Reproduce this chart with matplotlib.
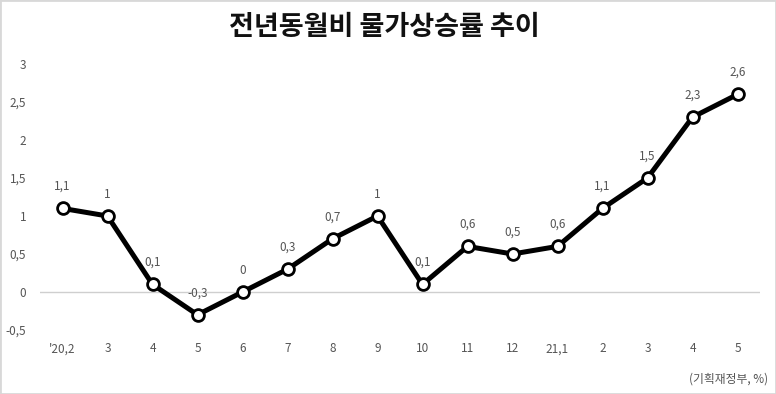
import matplotlib.pyplot as plt
from matplotlib.patches import Rectangle

plt.rcParams['font.family'] = ['Noto Sans CJK KR', 'DejaVu Sans']

months = ["'20,2", "3", "4", "5", "6", "7", "8", "9", "10", "11", "12",
          "21,1", "2", "3", "4", "5"]
cpi_yoy = [1.1, 1.0, 0.1, -0.3, 0.0, 0.3, 0.7, 1.0, 0.1, 0.6, 0.5,
           0.6, 1.1, 1.5, 2.3, 2.6]
y_ticks = [-0.5, 0, 0.5, 1, 1.5, 2, 2.5, 3]


def comma(v):
    s = f'{v:g}'
    return s.replace('.', ',')


fig = plt.figure(figsize=(7.76, 3.94), dpi=100)
W, H = 776, 394
# axes: x from 40 to 760 px, y from -0.5 (330px) to 3 (64px)
ax = fig.add_axes([40 / W, (H - 330) / H, 720 / W, 266 / H])

x = list(range(len(months)))
ax.plot(x, cpi_yoy, color='black', lw=3.6, marker='o', ms=8.5,
        markerfacecolor='white', markeredgecolor='black', mew=2, zorder=3)
ax.axhline(0, color='#cfcfcf', lw=1, zorder=1)

for xi, v in zip(x, cpi_yoy):
    ax.annotate(comma(v), (xi, v), xytext=(0, 11), textcoords='offset points',
                ha='center', va='bottom', fontsize=8.5, color='#555555')

ax.set_xlim(-0.5, len(months) - 0.5)
ax.set_ylim(-0.5, 3)
ax.set_yticks(y_ticks)
ax.set_yticklabels([comma(t) for t in y_ticks], fontsize=8.5, color='#555555')
ax.set_xticks(x)
ax.set_xticklabels(months, fontsize=8.5, color='#555555')
ax.tick_params(axis='both', length=0)
ax.tick_params(axis='y', pad=10)
ax.tick_params(axis='x', pad=9)
for s in ax.spines.values():
    s.set_visible(False)

fig.text(0.495, 1 - 27 / H, '전년동월비 물가상승률 추이', ha='center', va='center',
         fontsize=19.5, fontweight='bold', color='#111111')
fig.text(768 / W, 1 - 379 / H, '(기획재정부, %)', ha='right', va='center',
         fontsize=8.5, color='#555555')

fig.patches.append(Rectangle((0, 0), 1, 1, transform=fig.transFigure,
                             fill=False, edgecolor='#d8d8d8', lw=2))

fig.savefig('out.png', dpi=100)
